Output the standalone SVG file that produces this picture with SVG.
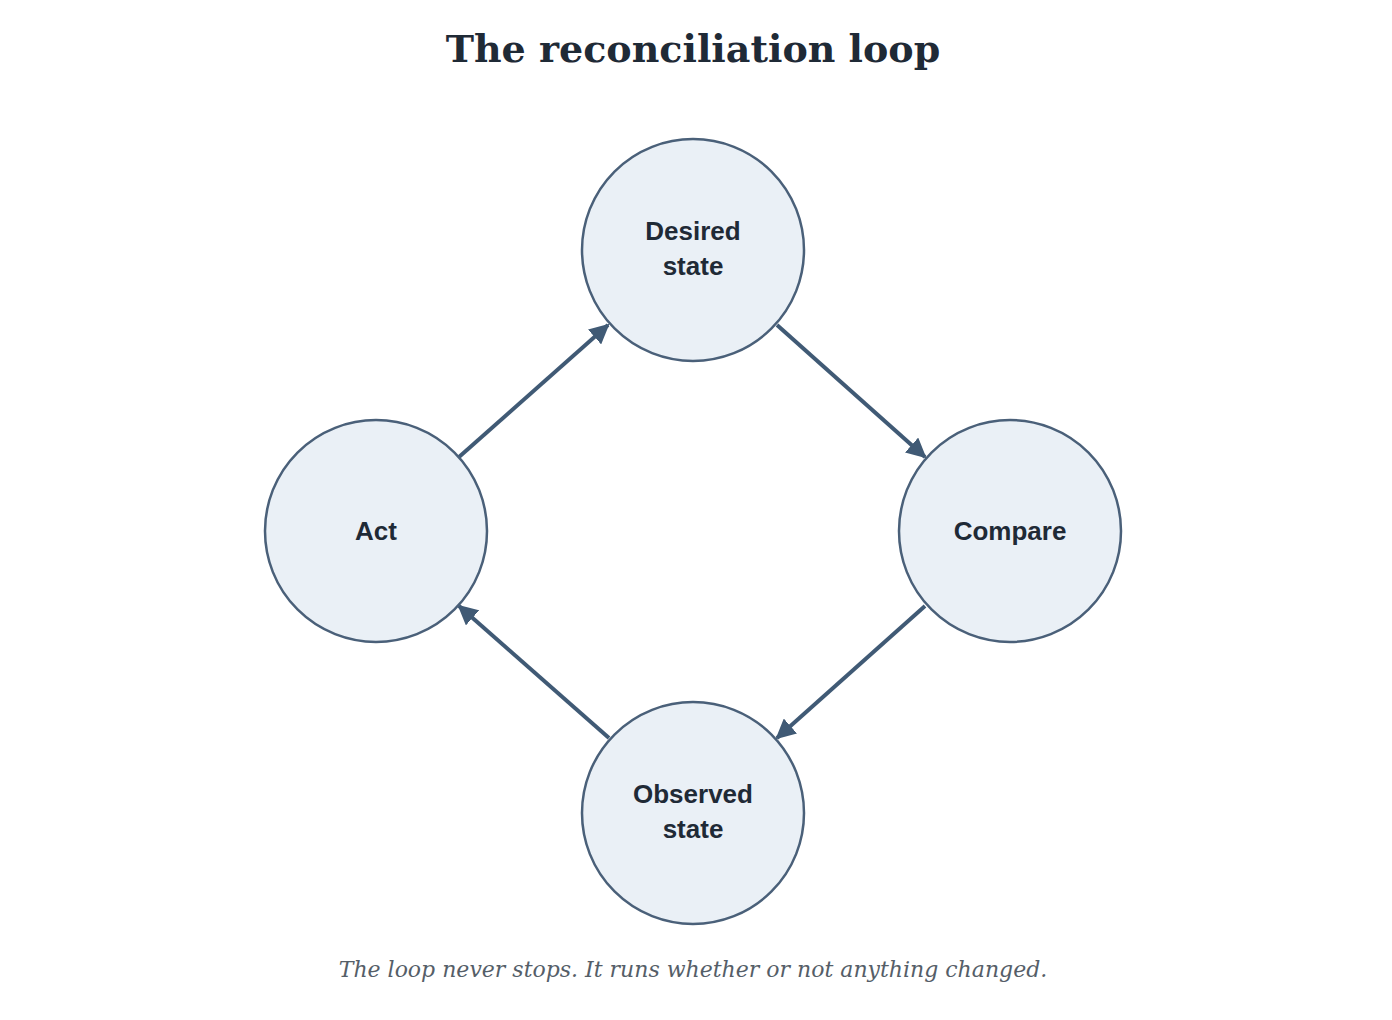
<svg xmlns="http://www.w3.org/2000/svg" width="1392" height="1020" viewBox="0 0 1392 1020">
<style>
.n{fill:#eaf0f6;stroke:#4a6079;stroke-width:2.5}
.t{font-family:"Liberation Sans",Arial,sans-serif;font-weight:bold;font-size:26px;fill:#1f2a36;text-anchor:middle}
.e{stroke:#405a75;stroke-width:4;fill:none;marker-end:url(#a)}
</style>
<defs><marker id="a" viewBox="0 0 10 10" refX="9" refY="5" markerWidth="5" markerHeight="5" orient="auto" markerUnits="strokeWidth"><path d="M0,0L10,5L0,10z" fill="#405a75"/></marker></defs>
<rect width="1392" height="1020" fill="#fff"/>
<text x="693" y="62" text-anchor="middle" font-family="DejaVu Serif,serif" font-weight="bold" font-size="38" fill="#1f2a36">The reconciliation loop</text>
<g id="edges">
<line class="e" x1="459" y1="457" x2="608" y2="325"/>
<line class="e" x1="777" y1="325" x2="925" y2="457"/>
<line class="e" x1="925" y1="606" x2="777" y2="738"/>
<line class="e" x1="609" y1="738" x2="459" y2="606"/>
</g>
<g id="desired"><circle class="n" cx="693" cy="250" r="111"/><text class="t" x="693" y="240">Desired</text><text class="t" x="693" y="275">state</text></g>
<g id="compare"><circle class="n" cx="1010" cy="531" r="111"/><text class="t" x="1010" y="540">Compare</text></g>
<g id="observed"><circle class="n" cx="693" cy="813" r="111"/><text class="t" x="693" y="803">Observed</text><text class="t" x="693" y="838">state</text></g>
<g id="act"><circle class="n" cx="376" cy="531" r="111"/><text class="t" x="376" y="540">Act</text></g>
<text x="693" y="977" text-anchor="middle" font-family="DejaVu Serif,serif" font-style="italic" font-size="22" fill="#555e68">The loop never stops. It runs whether or not anything changed.</text>
</svg>
